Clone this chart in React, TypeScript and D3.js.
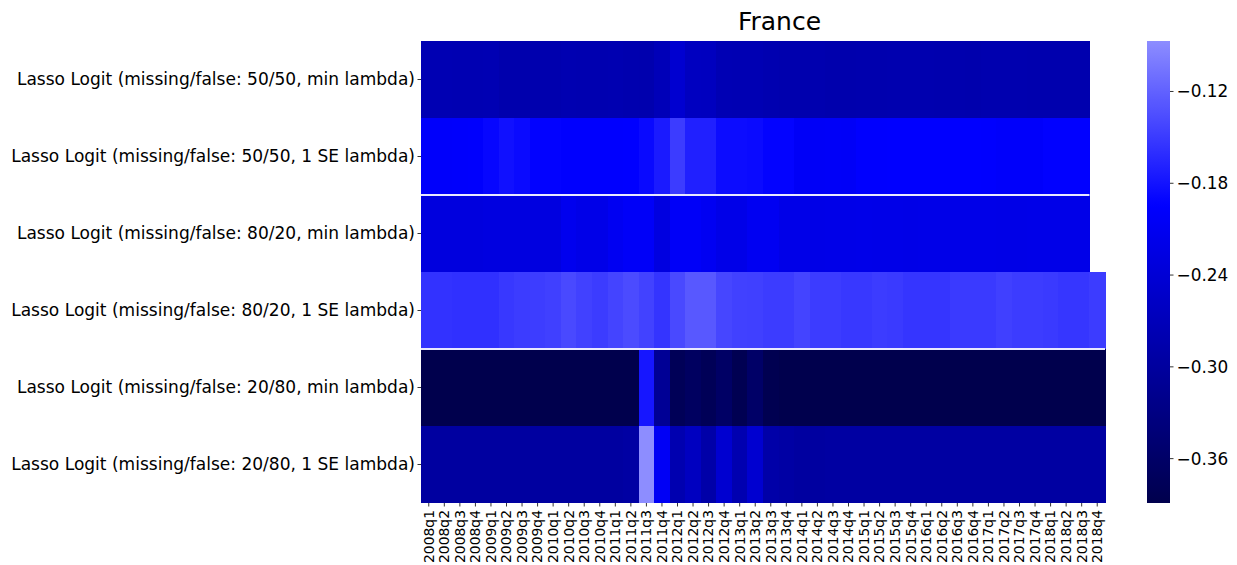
import React from "react";
import * as d3 from "d3";

const title = "France";

const rowLabels = [
  "Lasso Logit (missing/false: 50/50, min lambda)",
  "Lasso Logit (missing/false: 50/50, 1 SE lambda)",
  "Lasso Logit (missing/false: 80/20, min lambda)",
  "Lasso Logit (missing/false: 80/20, 1 SE lambda)",
  "Lasso Logit (missing/false: 20/80, min lambda)",
  "Lasso Logit (missing/false: 20/80, 1 SE lambda)",
];

const quarters: string[] = [];
for (let y = 2008; y <= 2018; y++) for (let q = 1; q <= 4; q++) quarters.push(`${y}q${q}`);

const row5050Min = [-0.277,-0.277,-0.278,-0.278,-0.277,-0.284,-0.284,-0.283,-0.283,-0.280,-0.281,-0.281,-0.280,-0.282,-0.283,-0.272,-0.246,-0.263,-0.264,-0.276,-0.277,-0.277,-0.281,-0.283,-0.283,-0.282,-0.284,-0.284,-0.283,-0.283,-0.282,-0.282,-0.282,-0.283,-0.283,-0.284,-0.282,-0.282,-0.282,-0.283,-0.283,-0.283,-0.283,null];
const row5050SE = [-0.199,-0.199,-0.198,-0.197,-0.190,-0.182,-0.187,-0.193,-0.193,-0.196,-0.196,-0.196,-0.196,-0.1945,-0.188,-0.175,-0.149,-0.170,-0.170,-0.185,-0.185,-0.187,-0.192,-0.192,-0.203,-0.203,-0.202,-0.203,-0.196,-0.196,-0.195,-0.195,-0.195,-0.195,-0.195,-0.195,-0.196,-0.199,-0.199,-0.199,-0.194,-0.194,-0.194,null];
const row8020Min = [-0.231,-0.231,-0.231,-0.231,-0.228,-0.228,-0.228,-0.228,-0.228,-0.213,-0.220,-0.220,-0.209,-0.202,-0.202,-0.228,-0.202,-0.202,-0.209,-0.220,-0.220,-0.209,-0.209,-0.220,-0.220,-0.221,-0.220,-0.220,-0.219,-0.220,-0.220,-0.221,-0.220,-0.220,-0.220,-0.220,-0.220,-0.221,-0.221,-0.220,-0.220,-0.220,-0.220,null];
const row8020SE = [-0.156,-0.156,-0.158,-0.158,-0.158,-0.152,-0.149,-0.148,-0.146,-0.139,-0.145,-0.149,-0.143,-0.137,-0.144,-0.155,-0.139,-0.127,-0.127,-0.141,-0.145,-0.146,-0.149,-0.149,-0.143,-0.149,-0.149,-0.152,-0.152,-0.149,-0.150,-0.154,-0.154,-0.154,-0.150,-0.150,-0.150,-0.146,-0.149,-0.149,-0.150,-0.153,-0.153,-0.149];
const row2080Min = [-0.388,-0.388,-0.388,-0.388,-0.388,-0.388,-0.388,-0.388,-0.388,-0.388,-0.388,-0.388,-0.388,-0.388,-0.178,-0.310,-0.378,-0.368,-0.378,-0.362,-0.383,-0.360,-0.384,-0.388,-0.388,-0.389,-0.388,-0.388,-0.388,-0.388,-0.388,-0.388,-0.388,-0.388,-0.388,-0.388,-0.388,-0.388,-0.388,-0.388,-0.388,-0.388,-0.388,-0.388];
const row2080SE = [-0.298,-0.298,-0.298,-0.298,-0.298,-0.298,-0.298,-0.298,-0.298,-0.298,-0.298,-0.298,-0.298,-0.295,-0.087,-0.205,-0.281,-0.263,-0.289,-0.246,-0.281,-0.246,-0.289,-0.294,-0.298,-0.298,-0.296,-0.296,-0.296,-0.296,-0.296,-0.296,-0.296,-0.296,-0.296,-0.296,-0.296,-0.296,-0.296,-0.296,-0.296,-0.296,-0.296,-0.296];

const rows = [row5050Min, row5050SE, row8020Min, row8020SE, row2080Min, row2080SE];
const separatorsAfter = [1, 3];
const cbarTicks = [-0.12, -0.18, -0.24, -0.30, -0.36];

// matplotlib "seismic" colormap
const seismicStops: [number, number, number][] = [
  [0, 0, 0.3],
  [0, 0, 1],
  [1, 1, 1],
  [1, 0, 0],
  [0.5, 0, 0],
];
function seismic(t: number) {
  const tt = Math.max(0, Math.min(1, t)) * 4;
  const i = Math.min(3, Math.floor(tt));
  const f = tt - i;
  const a = seismicStops[i], b = seismicStops[i + 1];
  const c = a.map((v, k) => Math.round((v + (b[k] - v) * f) * 255));
  return `rgb(${c[0]},${c[1]},${c[2]})`;
}

export default function App() {
  const W = 1237, H = 565;
  const left = 421, right = 1105, top = 41, bottom = 503;
  const all = rows.flat().filter((v) => v !== null) as number[];
  const [vmin, vmax] = d3.extent(all) as [number, number];
  const R = Math.max(Math.abs(vmin), Math.abs(vmax));
  const color = (v: number) => seismic((v + R) / (2 * R));

  const x = d3.scaleBand<string>().domain(quarters).range([left, right]);
  const y = d3.scaleBand<string>().domain(rowLabels).range([top, bottom]);

  const cbX = 1147, cbW = 23;
  const cbY = d3.scaleLinear().domain([vmin, vmax]).range([bottom, top]);
  const stops = d3.range(0, 101).map((i) => {
    const v = vmin + ((vmax - vmin) * i) / 100;
    return { off: i, c: color(v) };
  });
  const fmt = (v: number) => d3.format(".2f")(v).replace("-", "\u2212");
  const font = "DejaVu Sans, sans-serif";

  return (
    <svg width={W} height={H} style={{ position: "absolute", left: 0, top: 0 }} fontFamily={font}>
      <rect x={0} y={0} width={W} height={H} fill="#fff" />
      <text x={779.5} y={29.5} fontSize={25} textAnchor="middle" fill="#000">{title}</text>
      {rows.map((r, ri) =>
        r.map((v, ci) =>
          v === null ? null : (
            <rect
              key={`${ri}-${ci}`}
              x={x(quarters[ci])!}
              y={y(rowLabels[ri])!}
              width={x.bandwidth() + 0.6}
              height={y.bandwidth() + 0.4}
              fill={color(v)}
              shapeRendering="crispEdges"
            />
          )
        )
      )}
      {separatorsAfter.map((ri) => {
        const yy = y(rowLabels[ri])! + y.bandwidth();
        const lastIdx = Math.max(
          d3.max(rows[ri].map((v, i) => (v === null ? -1 : i)))!,
          d3.max(rows[ri + 1].map((v, i) => (v === null ? -1 : i)))!
        );
        const x1 = x(quarters[lastIdx])! + x.bandwidth();
        return <line key={ri} x1={left} x2={x1} y1={yy} y2={yy} stroke="#e8e8ff" strokeWidth={1.8} />;
      })}
      {rowLabels.map((l) => {
        const yy = y(l)! + y.bandwidth() / 2;
        return (
          <g key={l}>
            <line x1={left - 3.5} x2={left} y1={yy} y2={yy} stroke="#000" strokeWidth={0.8} />
            <text x={left - 6} y={yy} dy="0.35em" fontSize={17.05} textAnchor="end" fill="#000">{l}</text>
          </g>
        );
      })}
      {quarters.map((q) => {
        const xx = x(q)! + x.bandwidth() / 2;
        return (
          <g key={q}>
            <line x1={xx} x2={xx} y1={bottom} y2={bottom + 3.5} stroke="#000" strokeWidth={0.8} />
            <text
              transform={`translate(${xx},${bottom + 7}) rotate(-90)`}
              dy="0.35em"
              fontSize={13.9}
              textAnchor="end"
              fill="#000"
            >
              {q}
            </text>
          </g>
        );
      })}
      <defs>
        <linearGradient id="cbar" x1="0" y1="1" x2="0" y2="0">
          {stops.map((s) => (
            <stop key={s.off} offset={`${s.off}%`} stopColor={s.c} />
          ))}
        </linearGradient>
      </defs>
      <rect x={cbX} y={top} width={cbW} height={bottom - top} fill="url(#cbar)" />
      {cbarTicks.map((t) => {
        const yy = cbY(t);
        return (
          <g key={t}>
            <line x1={cbX + cbW} x2={cbX + cbW + 3.5} y1={yy} y2={yy} stroke="#000" strokeWidth={0.8} />
            <text x={cbX + cbW + 6.5} y={yy} dy="0.35em" fontSize={16.9} fill="#000">{fmt(t)}</text>
          </g>
        );
      })}
    </svg>
  );
}
